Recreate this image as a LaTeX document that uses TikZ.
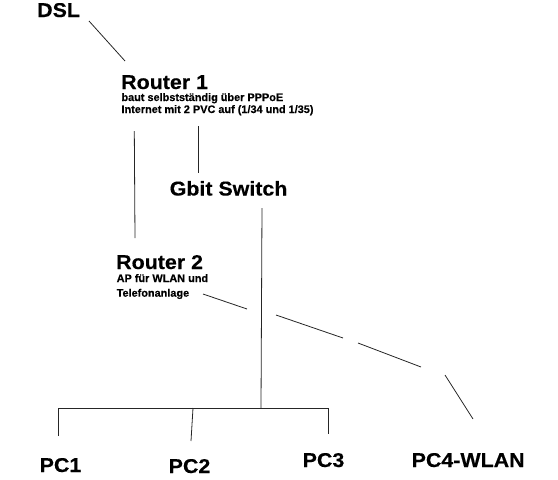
\documentclass[tikz,border=0pt]{standalone}
\usepackage{graphicx}
\usepackage{fontspec}
\setmainfont{Liberation Sans}
\newfontfamily\arb{Liberation Sans Bold}[FakeBold=0.3]
\newcommand\widetext[1]{\scalebox{1.07}[1]{#1}}
\begin{document}
\begin{tikzpicture}[x=1pt,y=-1pt,
  big/.style={anchor=base west,inner sep=0pt,font=\arb\fontsize{20}{24}\selectfont},
  small/.style={anchor=base west,inner sep=0pt,font=\arb\fontsize{10.9}{12}\selectfont},
  wire/.style={draw=black!85,line width=0.8pt}]
\useasboundingbox (0,0) rectangle (558,480);
% texts
\node[big] (dsl) at (37,17) {\widetext{DSL}};
\node[big] (r1) at (121,89) {\widetext{Router 1}};
\node[small] (r1a) at (121.3,101) {baut selbstständig über PPPoE};
\node[small] (r1b) at (121.3,113) {Internet mit 2 PVC auf (1/34 und 1/35)};
\node[big] (sw) at (169.5,195.5) {\widetext{Gbit Switch}};
\node[big] (r2) at (116,269) {\widetext{Router 2}};
\node[small] (r2a) at (116.5,282) {AP für WLAN und};
\node[small] (r2b) at (116.5,296.7) {Telefonanlage};
\node[big] (pc1) at (39.5,472) {\widetext{PC1}};
\node[big] (pc2) at (168.5,473) {\widetext{PC2}};
\node[big] (pc3) at (302.5,467) {\widetext{PC3}};
\node[big] (pc4) at (411.5,467) {\widetext{PC4-WLAN}};
% connector end points
\coordinate (dslE) at (89,21);
\coordinate (r1W) at (125,61);
\coordinate (r1L) at (134.3,131);
\coordinate (r2T) at (135,238);
\coordinate (r1R) at (198,126);
\coordinate (swT) at (198,173);
\coordinate (swB) at (262,208);
\coordinate (busM) at (261,408);
\coordinate (busL) at (58,408);
\coordinate (pc1T) at (58,436);
\coordinate (busR) at (328,408);
\coordinate (pc3T) at (328,434);
\coordinate (busP2) at (193,408);
\coordinate (pc2T) at (191,441);
\coordinate (w1a) at (203,294);
\coordinate (w1b) at (247,309);
\coordinate (w2a) at (276,315);
\coordinate (w2b) at (343,338);
\coordinate (w3a) at (358,343);
\coordinate (w3b) at (421,367);
\coordinate (w4a) at (445,375);
\coordinate (w4b) at (473,419);
% connectors
\draw[wire] (dslE) -- (r1W);
\draw[wire] (r1L) -- (r2T);
\draw[wire] (r1R) -- (swT);
\draw[wire] (swB) -- (busM);
\draw[wire] (pc1T) -- (busL) -- (busR) -- (pc3T);
\draw[wire] (busP2) -- (pc2T);
\draw[wire] (w1a) -- (w1b);
\draw[wire] (w2a) -- (w2b);
\draw[wire] (w3a) -- (w3b);
\draw[wire] (w4a) -- (w4b);
\end{tikzpicture}
\end{document}
